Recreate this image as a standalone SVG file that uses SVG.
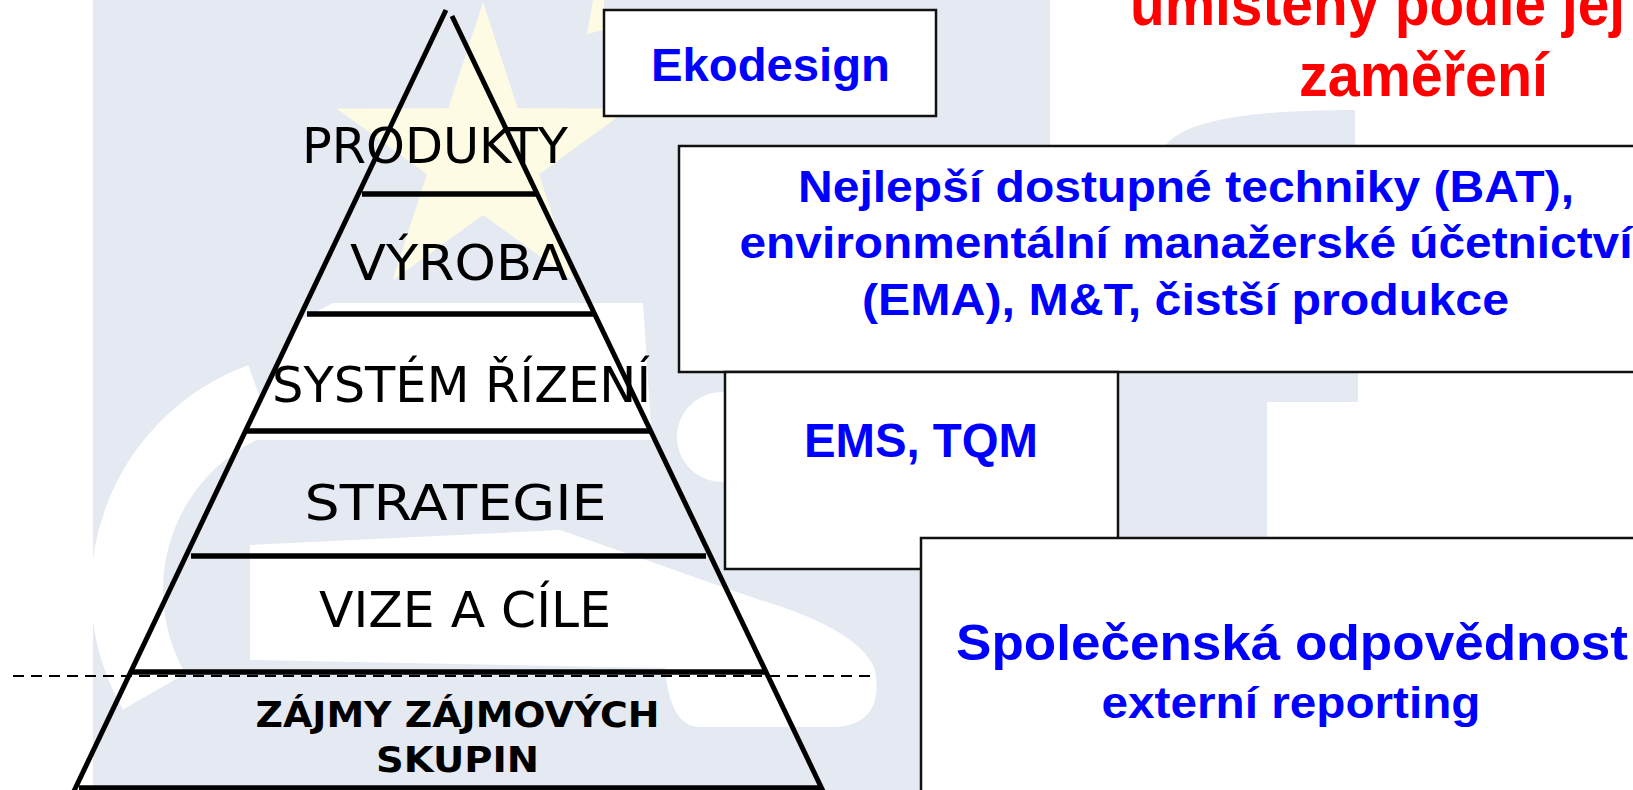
<svg xmlns="http://www.w3.org/2000/svg" width="1633" height="790" viewBox="0 0 1633 790">
  <style>
    .wm { fill: #e4e9f2; }
    .wmw { fill: #ffffff; }
    .star { fill: #fdfbe4; }
    .edge { stroke: #000; stroke-width: 5; fill: none; }
    .lvl { stroke: #000; stroke-width: 5.5; }
    .py { font-family: "DejaVu Sans", Verdana, sans-serif; font-size: 49px; fill: #000; text-anchor: middle; }
    .pyb { font-family: "DejaVu Sans", Verdana, sans-serif; font-size: 35px; font-weight: bold; fill: #000; text-anchor: middle; }
    .box { fill: #fff; stroke: #111; stroke-width: 2.5; }
    .bl { font-family: "Liberation Sans", Arial, sans-serif; font-weight: bold; fill: #0000ff; text-anchor: middle; }
    .rd { font-family: "Liberation Sans", Arial, sans-serif; font-weight: bold; fill: #ff0000; font-size: 62px; }
  </style>

  <rect x="0" y="0" width="1633" height="790" fill="#fff"/>

  <g id="watermark">
    <rect class="wm" x="93" y="0" width="957" height="790"/>
    <path class="wm" d="M1165,146 C1185,120 1250,110 1355,110 L1355,146 Z"/>
    <rect class="wm" x="1118" y="373" width="240" height="29"/>
    <rect class="wm" x="1118" y="402" width="149" height="140"/>
    <path d="M260.6,399.2 A203,203 0 0 0 154.2,691.5" fill="none" stroke="#fff" stroke-width="72"/>
    <polygon class="wmw" points="333,303 643,303 652,440 242,440 300,320"/>
    <path class="wmw" d="M250,545 L560,530 L760,600 Q860,630 875,670 Q885,727 830,727 L700,727 Q670,727 665,668 L250,660 Z"/>
    <ellipse class="wmw" cx="722" cy="437" rx="45" ry="45"/>
    <polygon class="star" points="483,2 517.7,108.3 629.5,108.4 539.1,174.2 573.5,280.6 483,215 392.5,280.6 426.9,174.2 336.5,108.4 448.3,108.3"/>
    <polygon class="star" points="593,0 604,0 604,30 587,34"/>
  </g>

  <g id="pyramid">
    <line class="edge" x1="446" y1="10" x2="74" y2="791"/>
    <line class="edge" x1="452" y1="16" x2="823" y2="791"/>
    <g id="level-produkty">
      <line class="lvl" x1="362" y1="194" x2="537" y2="194"/>
      <text class="py" x="435" y="163" textLength="266" lengthAdjust="spacingAndGlyphs">PRODUKTY</text>
    </g>
    <g id="level-vyroba">
      <line class="lvl" x1="307" y1="314" x2="593" y2="314"/>
      <text class="py" x="459" y="280" textLength="218" lengthAdjust="spacingAndGlyphs">VÝROBA</text>
    </g>
    <g id="level-system">
      <line class="lvl" x1="246" y1="431" x2="652" y2="431"/>
      <text class="py" x="461.5" y="402" textLength="379" lengthAdjust="spacingAndGlyphs">SYSTÉM ŘÍZENÍ</text>
    </g>
    <g id="level-strategie">
      <line class="lvl" x1="191" y1="556" x2="706" y2="556"/>
      <text class="py" x="455.5" y="520" textLength="302" lengthAdjust="spacingAndGlyphs">STRATEGIE</text>
    </g>
    <g id="level-vize">
      <line class="lvl" x1="131" y1="672" x2="767" y2="672"/>
      <text class="py" x="465" y="627" textLength="292" lengthAdjust="spacingAndGlyphs">VIZE A CÍLE</text>
    </g>
    <g id="level-zajmy">
      <line class="lvl" x1="79" y1="788" x2="820" y2="788"/>
      <text class="pyb" x="457.5" y="727" textLength="404" lengthAdjust="spacingAndGlyphs">ZÁJMY ZÁJMOVÝCH</text>
      <text class="pyb" x="457.5" y="772" textLength="163" lengthAdjust="spacingAndGlyphs">SKUPIN</text>
    </g>
  </g>

  <g id="connectors">
    <line x1="13" y1="676" x2="876" y2="676" stroke="#000" stroke-width="2" stroke-dasharray="11,7"/>
  </g>

  <g id="title">
    <text class="rd" x="1130" y="25" textLength="495" lengthAdjust="spacingAndGlyphs">umístěný podle jej</text>
    <text class="rd" x="1423.5" y="96" text-anchor="middle" textLength="249" lengthAdjust="spacingAndGlyphs">zaměření</text>
  </g>

  <g id="node-ekodesign">
    <rect class="box" x="604" y="10" width="332" height="106"/>
    <text class="bl" x="770.5" y="81" font-size="47" textLength="239" lengthAdjust="spacingAndGlyphs">Ekodesign</text>
  </g>

  <g id="node-bat">
    <rect class="box" x="679" y="146" width="1020" height="226"/>
    <text class="bl" x="1186" y="202" font-size="45" textLength="776" lengthAdjust="spacingAndGlyphs">Nejlepší dostupné techniky (BAT),</text>
    <text class="bl" x="1186" y="258" font-size="45" textLength="893" lengthAdjust="spacingAndGlyphs">environmentální manažerské účetnictví</text>
    <text class="bl" x="1185.5" y="315" font-size="45" textLength="647" lengthAdjust="spacingAndGlyphs">(EMA), M&amp;T, čistší produkce</text>
  </g>

  <g id="node-ems">
    <rect class="box" x="725" y="372" width="393" height="197"/>
    <text class="bl" x="921" y="457" font-size="48" textLength="234" lengthAdjust="spacingAndGlyphs">EMS, TQM</text>
  </g>

  <g id="node-csr">
    <rect class="box" x="921" y="538" width="800" height="300"/>
    <text class="bl" x="1292" y="660" font-size="50" textLength="672" lengthAdjust="spacingAndGlyphs">Společenská odpovědnost</text>
    <text class="bl" x="1291" y="718" font-size="45" textLength="379" lengthAdjust="spacingAndGlyphs">externí reporting</text>
  </g>
</svg>
